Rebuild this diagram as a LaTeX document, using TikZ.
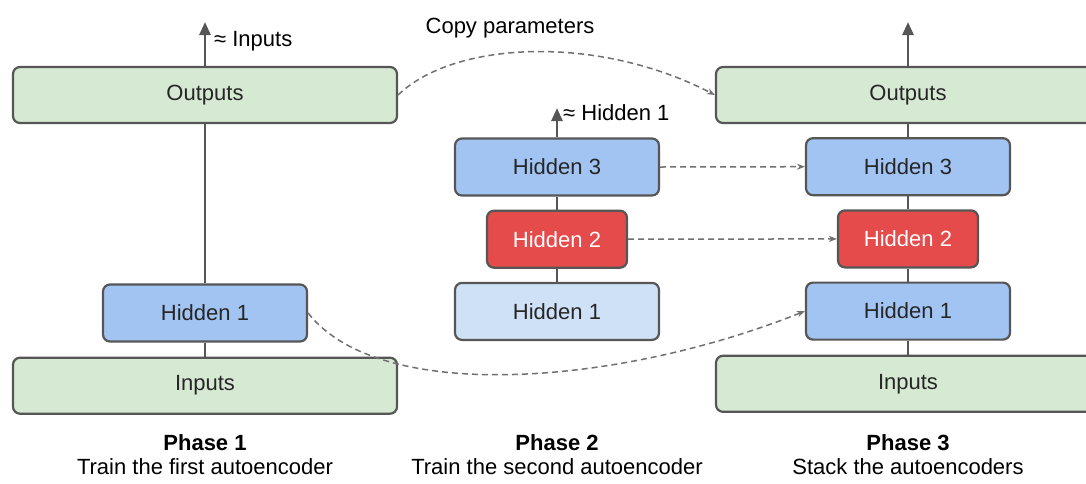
\documentclass[tikz,border=0pt]{standalone}
\usepackage{fontspec}
\setmainfont{Liberation Sans}
\usepackage{xcolor}
\usetikzlibrary{arrows.meta,positioning}

\definecolor{iogreen}{HTML}{D6E9D2}
\definecolor{hidblue}{HTML}{A2C4F2}
\definecolor{hidpale}{HTML}{CFE1F7}
\definecolor{codered}{HTML}{E54B4B}
\definecolor{edgegray}{HTML}{565656}
\definecolor{copygray}{HTML}{707070}

\begin{document}
\begin{tikzpicture}[
  x=1pt,y=-1pt,
  font=\fontsize{22}{24}\selectfont,
  box/.style={draw=edgegray,line width=2.2pt,rounded corners=7pt,align=center,inner sep=0pt,text=black!85},
  io/.style={box,fill=iogreen,minimum width=384pt,minimum height=56pt},
  hid/.style={box,fill=hidblue,minimum width=204pt,minimum height=57pt},
  pale/.style={hid,fill=hidpale},
  codebox/.style={box,fill=codered,text=white,minimum width=140pt,minimum height=57pt},
  link/.style={draw=edgegray,line width=2.6pt},
  arr/.style={link,-{Triangle[length=13pt,width=11pt]}},
  copyarr/.style={draw=copygray,line width=1.5pt,dash pattern=on 6pt off 4pt,-{Stealth[length=8pt,width=6pt]}},
  phasecap/.style={align=center,inner sep=0pt}
]
\useasboundingbox (0,0) rectangle (1086,483);
% phase 1
\node[io] (out1) at (205,95) {Outputs};
\node[hid] (hid1a) at (205,313) {Hidden 1};
\node[io,below=14pt of hid1a] (in1) {Inputs};
\coordinate (top1) at (205,22);
\node[anchor=west,inner sep=0pt] (lbl1) at (214,41) {≈ Inputs};
% phase 2
\node[hid] (h3b) at (557,167) {Hidden 3};
\node[codebox,below=13pt of h3b] (h2b) {Hidden 2};
\node[pale,below=13pt of h2b] (h1b) {Hidden 1};
\coordinate (top2) at (557,108);
\node[anchor=west,inner sep=0pt] (lbl2) at (563,113) {≈ Hidden 1};
% phase 3
\node[io] (out3) at (908,95) {Outputs};
\node[hid,below=13pt of out3] (h3c) {Hidden 3};
\node[codebox,below=13pt of h3c] (h2c) {Hidden 2};
\node[hid,below=13pt of h2c] (h1c) {Hidden 1};
\node[io,below=14pt of h1c] (in3) {Inputs};
\coordinate (top3) at (908,22);
% connectors
\draw[link] (hid1a)--(out1); \draw[link] (in1)--(hid1a);
\draw[arr] (out1.north)--(top1);
\draw[link] (h1b)--(h2b)--(h3b);
\draw[arr] (h3b.north)--(top2);
\draw[link] (in3)--(h1c)--(h2c)--(h3c)--(out3);
\draw[arr] (out3.north)--(top3);
% copied parameters
\node[inner sep=0pt] (copylbl) at (510,28) {Copy parameters};
\draw[copyarr] (out1.east) .. controls (455,40) and (600,35) .. (out3.west);
\draw[copyarr] (h3b.east)--(h3c.west);
\draw[copyarr] (h2b.east)--(h2c.west);
\draw[copyarr] (hid1a.east) .. controls (380,405) and (620,385) .. (h1c.west);
% captions
\node[phasecap] (cap1) at (205,455) {\textbf{Phase 1}\\Train the first autoencoder};
\node[phasecap] (cap2) at (557,455) {\textbf{Phase 2}\\Train the second autoencoder};
\node[phasecap] (cap3) at (908,455) {\textbf{Phase 3}\\Stack the autoencoders};
\end{tikzpicture}
\end{document}
